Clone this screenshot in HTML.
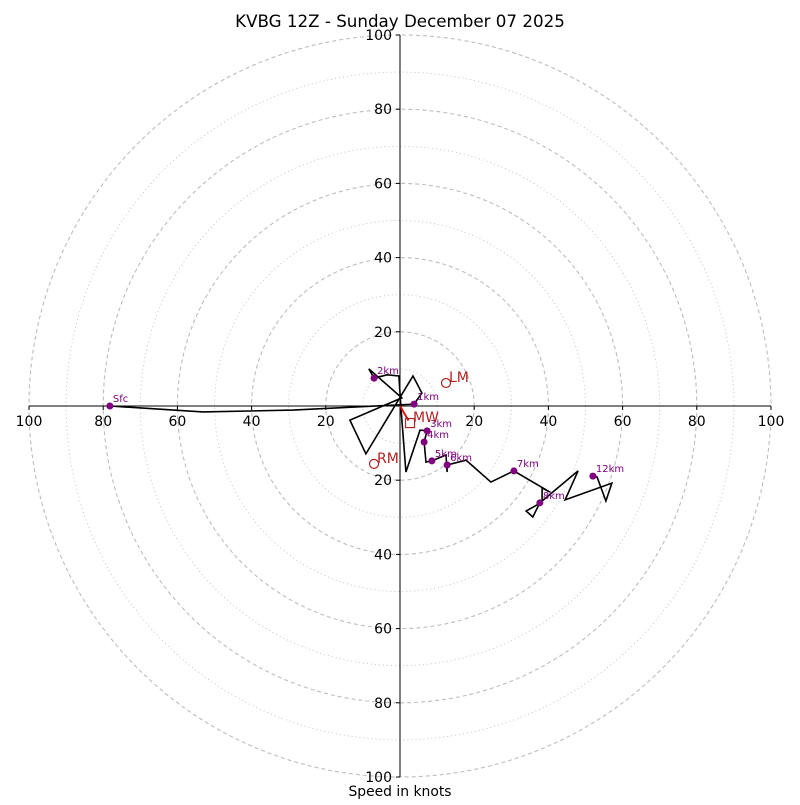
<!DOCTYPE html>
<html><head><meta charset="utf-8"><style>
html,body{margin:0;padding:0;background:#fff;}
svg text{font-family:"DejaVu Sans","Liberation Sans",sans-serif;}
</style></head><body>
<svg id="chart" width="800" height="800" viewBox="0 0 800 800" xmlns="http://www.w3.org/2000/svg">
<text x="400" y="27" font-size="16.7" text-anchor="middle">KVBG 12Z - Sunday December 07 2025</text>
<text x="400" y="796" font-size="13.9" text-anchor="middle">Speed in knots</text>
<g id="grid"></g>
<g id="axes"></g>
<g id="trace"></g>
<g id="markers"></g>
<g id="storm"></g>
</svg>
<script>
// wind components in knots (u east, v north)
const traceU = [-78.2,-53.1,-28.8,-0.5,3.8,5.9,3.5,-9.2,-13.5,0.5,-8.4,-7.0,-3.5,-0.3,0.3,1.6,5.4,7.3,6.5,7.0,8.6,12.4,12.7,12.7,17.8,24.5,30.7,40.4,38.3,38.3,34.0,35.8,37.7,48.0,44.5,57.1,55.5,53.1,52.0];
const traceV = [0,-1.6,-1.1,0.3,0.5,3.5,8.1,-12.9,-3.8,2.2,10.0,7.5,8.4,8.1,-1.1,-17.8,-6.5,-6.7,-9.7,-15.1,-14.8,-13.2,-17.8,-15.9,-14.6,-20.5,-17.5,-23.2,-22.1,-25.9,-28.3,-29.9,-26.1,-17.5,-25.3,-20.8,-25.6,-19.1,-18.9];
const markerLabels = ["Sfc","1km","2km","3km","4km","5km","6km","7km","8km","12km"];
const markerU = [-78.2,3.8,-7.0,7.3,6.5,8.6,12.7,30.7,37.7,52.0];
const markerV = [0,0.5,7.5,-6.7,-9.7,-14.8,-15.9,-17.5,-26.1,-18.9];
const stormLabels = ["LM","RM","MW"];
const stormU = [12.4,-7.0,2.7];
const stormV = [6.2,-15.6,-4.6];
const ringValues = [10,20,30,40,50,60,70,80,90,100];
const tickLabels = [20,40,60,80,100];

const NS="http://www.w3.org/2000/svg";
const cx=400, cy=406, k=3.71;
const sx=u=>cx+u*k, sy=v=>cy-v*k;
function mk(tag,attrs,parent){const e=document.createElementNS(NS,tag);for(const a in attrs)e.setAttribute(a,attrs[a]);parent.appendChild(e);return e;}
const grid=document.getElementById('grid');
ringValues.forEach(r=>{
  const c=mk('circle',{cx:cx,cy:cy,r:r*k,fill:'none',stroke:'#bdbdbd','stroke-width':r%20===0?1.1:0.9,'stroke-dasharray':r%20===0?'4,3':'1,3'},grid);
  
  
});
const axes=document.getElementById('axes');
mk('line',{x1:sx(-100),y1:cy,x2:sx(100),y2:cy,stroke:'#000','stroke-width':1},axes);
mk('line',{x1:cx,y1:sy(100),x2:cx,y2:sy(-100),stroke:'#000','stroke-width':1},axes);
tickLabels.forEach(t=>{
  [-1,1].forEach(s=>{
    const x=sx(s*t);
    mk('line',{x1:x,y1:cy,x2:x,y2:cy+4,stroke:'#000'},axes);
    const tx=mk('text',{x:x,y:cy+20,'font-size':14,'text-anchor':'middle'},axes);
    tx.textContent=t;
    
    
    const y=sy(s*t);
    mk('line',{x1:cx-4,y1:y,x2:cx,y2:y,stroke:'#000'},axes);
    const ty=mk('text',{x:cx-8,y:y+5,'font-size':14,'text-anchor':'end'},axes);
    ty.textContent=t;
    
    
  });
});
const trace=document.getElementById('trace');
const pl=mk('polyline',{points:traceU.map((u,i)=>sx(u)+','+sy(traceV[i])).join(' '),fill:'none',stroke:'#000','stroke-width':1.6,'stroke-linejoin':'miter'},trace);


const storm=document.getElementById('storm');
mk('line',{x1:cx,y1:cy,x2:sx(stormU[2]*0.85),y2:sy(stormV[2]*0.85),stroke:'#e00000','stroke-width':1.8},storm);
stormLabels.forEach((lab,i)=>{
  const x=sx(stormU[i]),y=sy(stormV[i]);
  let e;
  if(lab==='MW') e=mk('rect',{x:x-4.5,y:y-4.5,width:9,height:9,fill:'none',stroke:'#b22222','stroke-width':1.2},storm);
  else e=mk('circle',{cx:x,cy:y,r:4.5,fill:'none',stroke:'#b22222','stroke-width':1.2},storm);
  
  
  const t=mk('text',{x:x+3,y:y-1,'font-size':14,fill:'#b22222'},storm);
  t.textContent=lab;
  
  
});
const markers=document.getElementById('markers');
markerLabels.forEach((lab,i)=>{
  const x=sx(markerU[i]),y=sy(markerV[i]);
  const c=mk('circle',{cx:x,cy:y,r:3.5,fill:'#800080'},markers);
  
  
  const t=mk('text',{x:x+3,y:y-4,'font-size':10,fill:'#800080'},markers);
  t.textContent=lab;
  
  
});
</script>
</body></html>
